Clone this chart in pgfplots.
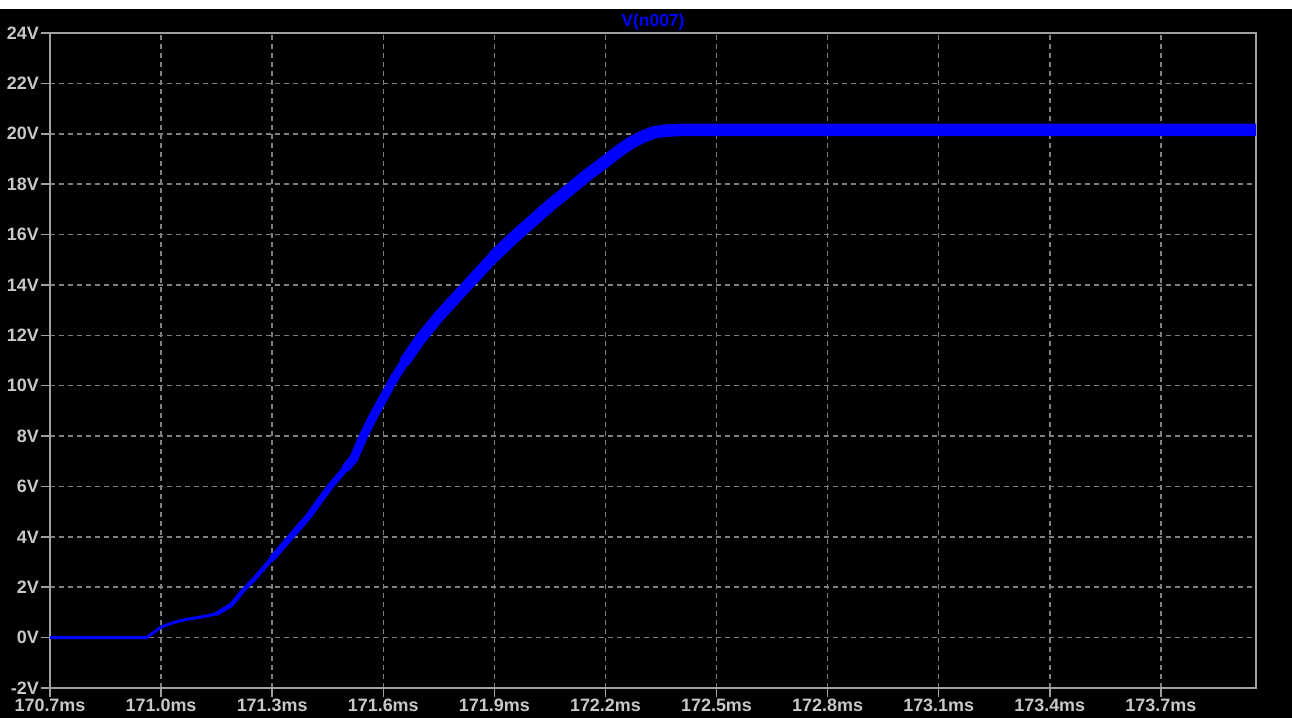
\documentclass[border=0pt]{standalone}
\usepackage{pgfplots}
\pgfplotsset{compat=1.18}
\usepackage{fontspec}
\setmainfont{Liberation Sans}
\definecolor{lbl}{HTML}{C8C8C8}
\definecolor{grd}{HTML}{808080}
\definecolor{frm}{HTML}{A0A0A0}
\definecolor{trace}{HTML}{0000FF}
\begin{document}
\begin{tikzpicture}
\fill[white] (-50bp,-30bp) rectangle (1242bp,688bp);
\fill[black] (-50bp,-30bp) rectangle (1242bp,679bp);
\begin{axis}[
  at={(0,0)}, anchor=south west,
  scale only axis, width=1206bp, height=655bp,
  xmin=170.7, xmax=173.957, ymin=-2, ymax=24,
  xtick={170.7,171.0,171.3,171.6,171.9,172.2,172.5,172.8,173.1,173.4,173.7},
  xticklabels={170.7ms,171.0ms,171.3ms,171.6ms,171.9ms,172.2ms,172.5ms,172.8ms,173.1ms,173.4ms,173.7ms},
  ytick={-2,0,2,4,6,8,10,12,14,16,18,20,22,24},
  yticklabels={-2V,0V,2V,4V,6V,8V,10V,12V,14V,16V,18V,20V,22V,24V},
  axis line style={frm, line width=2bp},
  tick style={frm, line width=1.5bp},
  major tick length=9bp, tick align=outside,
  xtick pos=bottom, ytick pos=left,
  grid=major,
  major grid style={grd, dash pattern=on 5bp off 4bp, line width=1.5bp},
  ticklabel style={font=\bfseries\fontsize{18}{20}\selectfont, text=lbl},
  yticklabel style={inner sep=2bp},
  xticklabel style={inner sep=2bp},
  title={V(n007)},
  title style={text=trace, font=\bfseries\fontsize{17.5}{19}\selectfont, at={(0.5,1)}, anchor=base, yshift=1bp},
  every axis plot/.append style={trace, line cap=round, line join=round},
]
\addplot[line width=3bp] coordinates {
(170.70,0) (170.96,0) (170.98,0.2) (171.00,0.42) (171.03,0.58) (171.06,0.70)
(171.10,0.80) (171.13,0.88) (171.15,0.95)};
\addplot[line width=4.5bp] coordinates {
(171.15,0.95) (171.19,1.30) (171.22,1.85) (171.25,2.3) (171.30,3.15)};
\addplot[line width=6.5bp] coordinates {
(171.30,3.15) (171.33,3.65) (171.366,4.27) (171.40,4.85) (171.456,5.99) (171.50,6.75)};
\addplot[line width=9bp] coordinates {
(171.50,6.75) (171.52,7.1) (171.546,7.98) (171.57,8.7) (171.60,9.5) (171.63,10.3) (171.66,11.0)};
\addplot[line width=11.5bp] coordinates {
(171.66,11.0) (171.70,11.85) (171.75,12.75) (171.80,13.55) (171.85,14.35) (171.90,15.15)};
\addplot[line width=12.5bp] coordinates {
(171.90,15.15) (171.95,15.85) (172.00,16.5) (172.05,17.15) (172.10,17.75) (172.15,18.35) (172.20,18.9)};
\addplot[line width=12.5bp] coordinates {
(172.20,18.9) (172.24,19.35) (172.27,19.65) (172.30,19.88) (172.33,20.05) (172.36,20.12) (172.40,20.15) (173.96,20.15)};
\end{axis}
\pgfresetboundingbox
\useasboundingbox (-50bp,-30bp) rectangle (1242bp,688bp);
\end{tikzpicture}
\end{document}
